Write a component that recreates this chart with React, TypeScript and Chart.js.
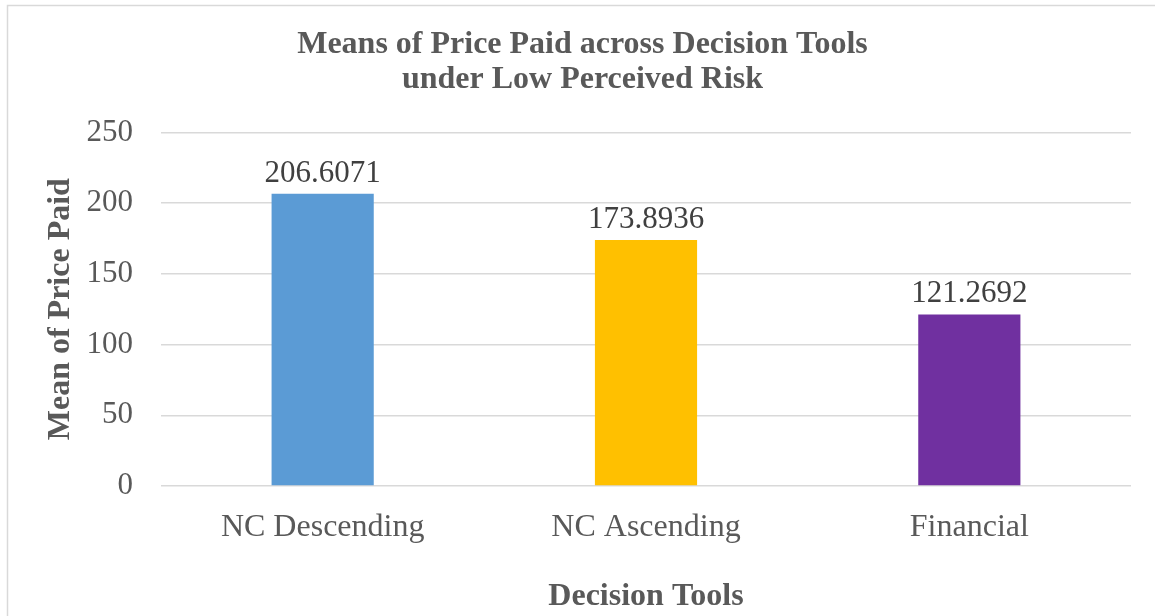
import React, { useEffect, useRef } from "react";
import { Chart, registerables } from "chart.js";

Chart.register(...registerables);

const categories = ["NC Descending", "NC Ascending", "Financial"];
const meanPricePaid = [206.6071, 173.8936, 121.2692];
const valueLabels = ["206.6071", "173.8936", "121.2692"];
const barColors = ["#5B9BD5", "#FFC000", "#7030A0"];
const titleLines = ["Means of Price Paid across Decision Tools", "under Low Perceived Risk"];
const yAxisTitle = "Mean of Price Paid";
const xAxisTitle = "Decision Tools";

const FONT = "'Liberation Serif', 'Times New Roman', serif";

const frameAndLabels = {
  id: "frameAndLabels",
  beforeDraw(chart: any) {
    const ctx = chart.ctx;
    ctx.save();
    ctx.fillStyle = "#ffffff";
    ctx.fillRect(0, 0, chart.width, chart.height);
    ctx.strokeStyle = "#d9d9d9";
    ctx.lineWidth = 1.5;
    ctx.strokeRect(7.5, 5.5, chart.width + 20, chart.height + 20);
    ctx.restore();
  },
  afterDatasetsDraw(chart: any) {
    const ctx = chart.ctx;
    const meta = chart.getDatasetMeta(0);
    ctx.save();
    ctx.font = `31px ${FONT}`;
    ctx.fillStyle = "#404040";
    ctx.textAlign = "center";
    ctx.textBaseline = "alphabetic";
    meta.data.forEach((bar: any, i: number) => {
      ctx.fillText(valueLabels[i], bar.x, bar.y - 12);
    });
    ctx.restore();
  },
};

export default function App() {
  const ref = useRef<HTMLCanvasElement>(null);
  useEffect(() => {
    if (!ref.current) return;
    const chart = new Chart(ref.current, {
      type: "bar",
      data: {
        labels: categories,
        datasets: [
          {
            data: meanPricePaid,
            backgroundColor: barColors,
            borderWidth: 0,
            barPercentage: 0.316,
            categoryPercentage: 1,
          },
        ],
      },
      options: {
        animation: false,
        responsive: false,
        maintainAspectRatio: false,
        devicePixelRatio: 1,
        layout: { padding: { left: 34, right: 24, top: 27, bottom: 0 } },
        plugins: {
          legend: { display: false },
          tooltip: { enabled: false },
          title: {
            display: true,
            text: titleLines,
            color: "#595959",
            font: { family: FONT, size: 32, weight: "bold", lineHeight: 1.1 },
            padding: { top: 0, bottom: 35 },
          },
        },
        scales: {
          x: {
            grid: { display: false },
            border: { display: false },
            ticks: {
              color: "#595959",
              font: { family: FONT, size: 32 },
              padding: 14,
              maxRotation: 0,
            },
            title: {
              display: true,
              text: xAxisTitle,
              color: "#595959",
              font: { family: FONT, size: 32, weight: "bold", lineHeight: 1.2 },
              padding: { top: 0, bottom: 0 },
            },
            afterFit(scale: any) {
              scale.height = 130;
            },
          },
          y: {
            min: 0,
            max: 250,
            ticks: {
              stepSize: 50,
              color: "#595959",
              font: { family: FONT, size: 31 },
              padding: 28,
            },
            grid: { color: "#d9d9d9", lineWidth: 1.5, drawTicks: false },
            border: { display: false },
            title: {
              display: true,
              text: yAxisTitle,
              color: "#595959",
              font: { family: FONT, size: 32, weight: "bold", lineHeight: 1.2 },
              padding: { top: 8, bottom: 0 },
            },
            afterFit(scale: any) {
              scale.width = 161 - 34;
            },
          },
        },
      },
      plugins: [frameAndLabels],
    });
    return () => chart.destroy();
  }, []);
  return (
    <div style={{ position: "fixed", left: 0, top: 0, width: 1155, height: 616 }}>
      <canvas ref={ref} width={1155} height={616} style={{ width: 1155, height: 616, display: "block" }} />
    </div>
  );
}
